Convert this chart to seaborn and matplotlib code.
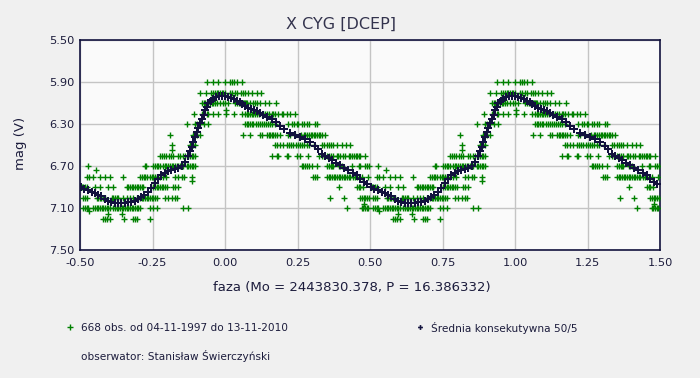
import matplotlib
matplotlib.use("Agg")
import matplotlib.pyplot as plt
from matplotlib.lines import Line2D
import seaborn as sns
import pandas as pd

# ---- observations (phase in [-0.5, 0.5) per magnitude row, read from chart) ----
obs_590 = [-0.061, -0.040, -0.025, 0.0, 0.017, 0.025, 0.032, 0.040, 0.057]
obs_600 = [-0.086, -0.066, -0.049, -0.040, -0.034, -0.029, -0.023, -0.017, -0.011, -0.006,
           0.0, 0.017, 0.025, 0.034, 0.040, 0.054, 0.063, 0.069, 0.080, 0.094, 0.109, 0.124]
obs_610 = [-0.080, -0.074, -0.068, -0.063, -0.057, -0.052, -0.046, -0.040, -0.034, -0.028,
           -0.017, -0.006, 0.0, 0.011, 0.034, 0.043, 0.048, 0.052, 0.057, 0.061, 0.066,
           0.069, 0.074, 0.077, 0.086, 0.095, 0.103, 0.111, 0.121, 0.138, 0.153, 0.176]
obs_620 = [-0.106, -0.080, -0.063, -0.058, -0.040, -0.023, 0.003, 0.032, 0.057, 0.069,
           0.075, 0.080, 0.086, 0.092, 0.098, 0.103, 0.109, 0.118, 0.127, 0.132, 0.138,
           0.144, 0.150, 0.161, 0.167, 0.173, 0.184, 0.195, 0.201, 0.213, 0.224, 0.241]
obs_630 = [-0.132, -0.103, -0.095, -0.086, -0.072, -0.058, 0.069, 0.075, 0.080, 0.086,
           0.092, 0.098, 0.106, 0.113, 0.120, 0.127, 0.134, 0.141, 0.148, 0.155, 0.161,
           0.172, 0.218, 0.230, 0.237, 0.248, 0.253, 0.265, 0.273, 0.282, 0.289, 0.310, 0.317]
obs_640 = [-0.190, -0.112, -0.103, -0.098, -0.086, 0.063, 0.086, 0.121, 0.127, 0.144,
           0.150, 0.155, 0.161, 0.167, 0.173, 0.179, 0.190, 0.218, 0.225, 0.242, 0.263,
           0.271, 0.277, 0.283, 0.289, 0.295, 0.300, 0.306, 0.312, 0.318, 0.323, 0.329,
           0.335, 0.346]
obs_650 = [-0.184, -0.121, -0.112, -0.103, 0.172, 0.180, 0.190, 0.200, 0.213, 0.221,
           0.228, 0.236, 0.244, 0.252, 0.259, 0.266, 0.274, 0.282, 0.289, 0.306, 0.334,
           0.342, 0.350, 0.358, 0.366, 0.374, 0.386, 0.403, 0.417, 0.431]
obs_660 = [-0.224, -0.218, -0.210, -0.202, -0.194, -0.185, -0.178, -0.161, -0.155, -0.144,
           -0.138, -0.127, -0.121, -0.115, -0.109, -0.103, 0.161, 0.179, 0.184, 0.214,
           0.218, 0.248, 0.259, 0.287, 0.323, 0.334, 0.340, 0.352, 0.358, 0.364, 0.374,
           0.386, 0.391, 0.398, 0.408, 0.415, 0.426, 0.432, 0.438, 0.444, 0.450, 0.456,
           0.461, 0.467, 0.483]
obs_670 = [-0.471, -0.276, -0.271, -0.248, -0.242, -0.236, -0.230, -0.225, -0.213, -0.208,
           -0.202, -0.197, -0.190, -0.184, -0.178, -0.172, -0.167, -0.162, -0.155, -0.144,
           -0.132, -0.127, -0.121, -0.115, -0.109, -0.103, 0.264, 0.270, 0.276, 0.282,
           0.289, 0.299, 0.316, 0.351, 0.358, 0.364, 0.369, 0.374, 0.392, 0.398, 0.403,
           0.438, 0.461, 0.467, 0.484, 0.490, 0.496]
obs_680 = [-0.477, -0.468, -0.454, -0.431, -0.414, -0.397, -0.351, -0.293, -0.287, -0.281,
           -0.276, -0.270, -0.259, -0.253, -0.247, -0.242, -0.236, -0.225, -0.213, -0.202,
           -0.172, -0.161, -0.149, -0.140, -0.115, 0.305, 0.312, 0.316, 0.351, 0.357,
           0.363, 0.369, 0.375, 0.381, 0.386, 0.392, 0.398, 0.403, 0.409, 0.415, 0.420,
           0.426, 0.431, 0.440, 0.448, 0.454, 0.471, 0.494]
obs_690 = [-0.494, -0.488, -0.483, -0.477, -0.448, -0.431, -0.402, -0.385, -0.339, -0.333,
           -0.328, -0.322, -0.316, -0.310, -0.305, -0.299, -0.293, -0.287, -0.282, -0.247,
           -0.241, -0.236, -0.230, -0.224, -0.218, -0.213, -0.207, -0.201, -0.178, -0.172,
           -0.161, 0.392, 0.454, 0.461, 0.467, 0.477]
obs_700 = [-0.489, -0.483, -0.477, -0.443, -0.437, -0.431, -0.426, -0.420, -0.414, -0.391,
           -0.385, -0.379, -0.374, -0.368, -0.351, -0.339, -0.328, -0.316, -0.305, -0.299,
           -0.293, -0.287, -0.282, -0.276, -0.270, -0.264, -0.259, -0.253, -0.247, -0.241,
           -0.236, -0.207, -0.195, -0.184, -0.172, -0.167, 0.363, 0.409, 0.467, 0.473,
           0.478, 0.484, 0.490, 0.496]
obs_710 = [-0.489, -0.483, -0.477, -0.471, -0.454, -0.448, -0.443, -0.437, -0.431, -0.425,
           -0.420, -0.414, -0.408, -0.402, -0.397, -0.385, -0.379, -0.374, -0.368, -0.362,
           -0.356, -0.351, -0.345, -0.339, -0.333, -0.328, -0.322, -0.316, -0.310, -0.305,
           -0.299, -0.293, -0.259, -0.247, -0.236, -0.144, -0.127, 0.421, 0.471, 0.477,
           0.483, 0.489, 0.494]
obs_720 = [-0.420, -0.414, -0.408, -0.397, -0.348, -0.316, -0.310, -0.305, -0.259]
obs_extra_phase = [-0.444, -0.182, -0.115, 0.002, -0.468, -0.402, -0.356, 0.478]
obs_extra_mag = [6.74, 6.55, 6.84, 6.17, 7.13, 7.16, 7.16, 7.06]

obs_rows = {5.90: obs_590, 6.00: obs_600, 6.10: obs_610, 6.20: obs_620, 6.30: obs_630,
            6.40: obs_640, 6.50: obs_650, 6.60: obs_660, 6.70: obs_670, 6.80: obs_680,
            6.90: obs_690, 7.00: obs_700, 7.10: obs_710, 7.20: obs_720}

# ---- consecutive mean curve (phase, mag) over one cycle ----
mean_phase = [-0.495, -0.485, -0.472, -0.460, -0.449, -0.438, -0.426, -0.415, -0.403, -0.392,
              -0.380, -0.369, -0.357, -0.346, -0.335, -0.323, -0.312, -0.300, -0.289, -0.278,
              -0.266, -0.254, -0.243, -0.231, -0.220, -0.208, -0.197, -0.185, -0.173, -0.162,
              -0.150, -0.138, -0.127, -0.121, -0.115, -0.109, -0.103, -0.097, -0.092, -0.086,
              -0.080, -0.074, -0.069, -0.063, -0.058, -0.050, -0.040, -0.030, -0.020, -0.010,
              0.000, 0.010, 0.020, 0.030, 0.040, 0.050, 0.060, 0.070, 0.080, 0.090,
              0.100, 0.110, 0.120, 0.132, 0.145, 0.161, 0.175, 0.190, 0.205, 0.224,
              0.240, 0.259, 0.275, 0.293, 0.310, 0.322, 0.334, 0.345, 0.357, 0.368,
              0.383, 0.397, 0.410, 0.425, 0.440, 0.455, 0.467, 0.478, 0.490]
mean_mag = [6.900, 6.915, 6.930, 6.945, 6.960, 6.975, 6.990, 7.010, 7.033, 7.045,
            7.050, 7.052, 7.052, 7.050, 7.047, 7.040, 7.030, 7.015, 6.998, 6.978,
            6.945, 6.906, 6.865, 6.820, 6.788, 6.770, 6.752, 6.738, 6.728, 6.718,
            6.700, 6.660, 6.600, 6.560, 6.520, 6.470, 6.420, 6.380, 6.340, 6.290,
            6.250, 6.210, 6.170, 6.135, 6.100, 6.080, 6.062, 6.045, 6.038, 6.033,
            6.033, 6.040, 6.050, 6.062, 6.078, 6.095, 6.113, 6.130, 6.145, 6.158,
            6.168, 6.180, 6.195, 6.214, 6.232, 6.256, 6.285, 6.319, 6.350, 6.383,
            6.400, 6.421, 6.445, 6.470, 6.510, 6.540, 6.585, 6.605, 6.625, 6.643,
            6.670, 6.695, 6.715, 6.740, 6.765, 6.790, 6.820, 6.850, 6.875]

x_ticks = [-0.50, -0.25, 0.00, 0.25, 0.50, 0.75, 1.00, 1.25, 1.50]
y_ticks = [5.50, 5.90, 6.30, 6.70, 7.10, 7.50]

title = "X CYG [DCEP]"
x_label = "faza (Mo = 2443830.378, P = 16.386332)"
y_label = "mag (V)"
legend_obs = "668 obs. od 04-11-1997 do 13-11-2010"
legend_mean = "Średnia konsekutywna 50/5"
observer = "obserwator: Stanisław Świerczyński"

# ---- build tables (each cycle shown twice: phase and phase + 1) ----
rows = []
for m, ph in obs_rows.items():
    for p in ph:
        rows.append((p, m))
for p, m in zip(obs_extra_phase, obs_extra_mag):
    rows.append((p, m))
obs = pd.DataFrame(rows, columns=["phase", "mag"])
obs = pd.concat([obs, obs.assign(phase=obs["phase"] + 1)], ignore_index=True)

mean = pd.DataFrame({"phase": mean_phase, "mag": mean_mag})
mean = pd.concat([mean, mean.assign(phase=mean["phase"] + 1)], ignore_index=True)

# ---- style ----
sns.set_style("white")
plt.rcParams["font.family"] = ["DejaVu Sans"]
TXT = "#1c1c3c"
GREEN = "#008000"
NAVY = "#12123e"

fig = plt.figure(figsize=(7.0, 3.78), dpi=100, facecolor="#f0f0f0")
ax = fig.add_axes([80 / 700, 128 / 378, 580 / 700, 210 / 378])
ax.set_facecolor("#fafafa")

sns.scatterplot(data=obs, x="phase", y="mag", marker="+", color=GREEN, s=14,
                linewidth=1.0, ax=ax, zorder=3)
sns.scatterplot(data=mean, x="phase", y="mag", marker="P", color=NAVY, s=34,
                linewidth=0, ax=ax, zorder=4)

ax.set_xlim(-0.5, 1.5)
ax.set_ylim(7.5, 5.5)
ax.set_xticks(x_ticks)
ax.set_xticklabels([f"{t:.2f}" for t in x_ticks])
ax.set_yticks(y_ticks)
ax.set_yticklabels([f"{t:.2f}" for t in y_ticks])
ax.grid(True, color="#c4c4c4", linewidth=1.0, zorder=0)
ax.set_axisbelow(True)
for s in ax.spines.values():
    s.set_color(NAVY)
    s.set_linewidth(1.2)
ax.tick_params(axis="x", direction="in", length=4, width=1, color=NAVY,
               labelsize=8.2, labelcolor=TXT, pad=6)
ax.tick_params(axis="y", direction="out", length=3, width=1, color=NAVY,
               labelsize=8.2, labelcolor=TXT, pad=1)

ax.set_xlabel(x_label, fontsize=9.5, color=TXT)
ax.xaxis.set_label_coords((352 - 80) / 580, (250 - 288) / 210)
ax.xaxis.label.set_va("center")
ax.set_ylabel(y_label, fontsize=9.5, color=TXT)
ax.yaxis.set_label_coords((21 - 80) / 580, (250 - 143) / 210)
ax.yaxis.label.set_va("center")

fig.text(341 / 700, 1 - 24 / 378, title, ha="center", va="center",
         fontsize=11.5, color="#33334d")

# legend area
fig.add_artist(Line2D([70 / 700], [1 - 327 / 378], transform=fig.transFigure,
                      marker="+", color=GREEN, markersize=4, markeredgewidth=1.0, linestyle=""))
fig.text(81 / 700, 1 - 328 / 378, legend_obs, ha="left", va="center", fontsize=7.6, color=TXT)
fig.add_artist(Line2D([420 / 700], [1 - 327 / 378], transform=fig.transFigure,
                      marker="P", color=NAVY, markersize=3.5, markeredgewidth=0, linestyle=""))
fig.text(431 / 700, 1 - 328 / 378, legend_mean, ha="left", va="center", fontsize=7.6, color=TXT)
fig.text(81 / 700, 1 - 356 / 378, observer, ha="left", va="center", fontsize=7.6, color=TXT)

fig.savefig("out.png", dpi=100, facecolor=fig.get_facecolor())
